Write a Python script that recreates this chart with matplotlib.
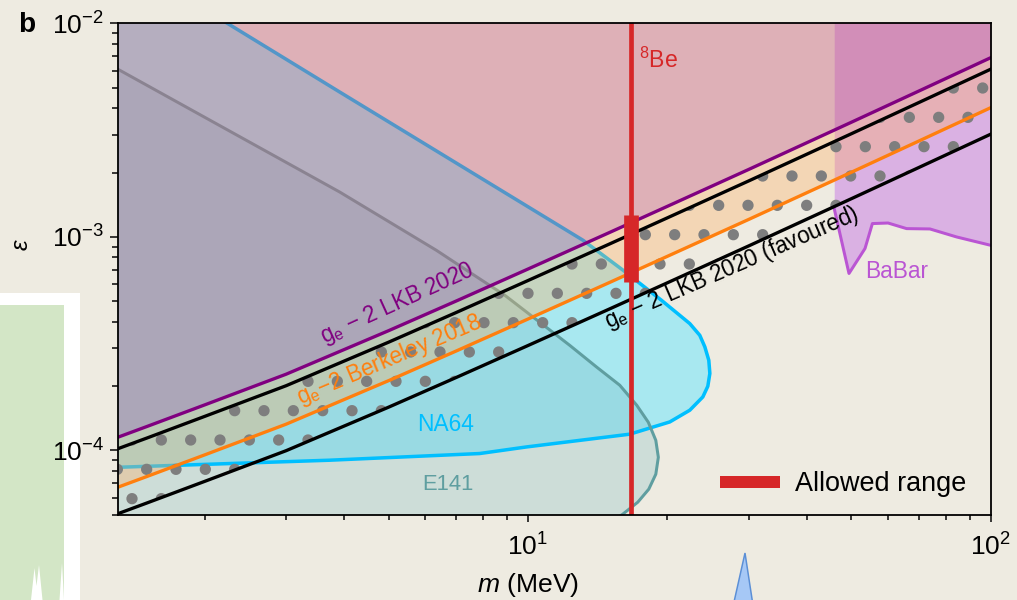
import matplotlib
matplotlib.use("Agg")
import matplotlib.pyplot as plt
from matplotlib.lines import Line2D
from matplotlib.patches import Rectangle, Polygon
from matplotlib.ticker import NullFormatter

# ---------------------------------------------------------------------------
# Output geometry (pixels) – the hatch cell of Agg equals one inch, so the dpi
# sets the spacing of the dotted "favoured" band.
W, H, DPI = 1017, 600, 176
PT = 72.0 / DPI  # points per output pixel

# ---------------------------------------------------------------------------
# Data: dark-photon mass m (MeV) and kinetic mixing epsilon
mass = [1.3, 1.5, 2, 3, 5, 7, 10, 15, 20, 30, 50, 70, 100]
lkb2020 = [1.151e-4, 1.291e-4, 1.630e-4, 2.270e-4, 3.633e-4, 5.003e-4, 7.06e-4,
           1.047e-3, 1.388e-3, 2.068e-3, 3.440e-3, 4.820e-3, 6.900e-3]
fav_upper = [1.017e-4, 1.140e-4, 1.440e-4, 2.005e-4, 3.209e-4, 4.420e-4, 6.237e-4,
             9.249e-4, 1.226e-3, 1.827e-3, 3.039e-3, 4.258e-3, 6.095e-3]
berkeley2018 = [6.713e-5, 7.529e-5, 9.506e-5, 1.324e-4, 2.119e-4, 2.918e-4, 4.117e-4,
                6.106e-4, 8.095e-4, 1.206e-3, 2.006e-3, 2.811e-3, 4.024e-3]
fav_lower = [5.045e-5, 5.658e-5, 7.144e-5, 9.949e-5, 1.592e-4, 2.193e-4, 3.094e-4,
             4.589e-4, 6.084e-4, 9.064e-4, 1.508e-3, 2.113e-3, 3.024e-3]

# NA64 excluded contour
na64_mass = [1.3, 2.245, 3.915, 13.15, 16.05, 19.43, 22.37, 23.51, 24.11, 24.59,
             24.72, 24.47, 23.87, 22.37, 20.25, 16.59, 9.92, 7.86, 3.725, 1.3]
na64_eps = [2.06e-2, 9.97e-3, 4.77e-3, 9.63e-4, 6.97e-4, 5.04e-4, 3.92e-4, 3.456e-4,
            3.05e-4, 2.64e-4, 2.29e-4, 1.994e-4, 1.777e-4, 1.540e-4, 1.357e-4,
            1.189e-4, 1.036e-4, 9.65e-5, 8.98e-5, 8.32e-5]

# E141 excluded contour
e141_mass = [1.3, 3.915, 6.34, 7.48, 8.91, 10.60, 12.31, 14.06, 15.79, 17.18, 18.20,
             18.89, 19.13, 18.89, 18.24, 17.27, 16.03, 14.29]
e141_eps = [6.09e-3, 1.622e-3, 8.64e-4, 6.82e-4, 5.32e-4, 3.98e-4, 3.10e-4, 2.456e-4,
            2.016e-4, 1.625e-4, 1.352e-4, 1.113e-4, 9.27e-5, 7.72e-5, 6.57e-5,
            5.71e-5, 5.02e-5, 4.22e-5]

# BaBar lower exclusion edge
babar_mass = [45.9, 49.4, 53.5, 55.5, 60.0, 65.8, 73.9, 84.4, 100]
babar_eps = [1.355e-3, 6.73e-4, 8.81e-4, 1.153e-3, 1.160e-3, 1.092e-3, 1.088e-3,
             9.98e-4, 9.12e-4]

# 8Be anomaly (X17) mass and allowed coupling range
be8_mass = 16.7
be8_range = [6.14e-4, 1.26e-3]

XLIM = (1.3, 100)
YLIM = (5e-5, 1e-2)
EPS_TOP = 2e-2

# ---------------------------------------------------------------------------
# Colours
BG = '#eeebe1'
PURPLE = '#800080'
ORANGE = '#ff7f0e'
BLACK = '#000000'
CYAN = '#00bfff'
TEAL = '#5f9ea0'
RED = '#d62728'
ORCHID = '#ba55d3'
DOT = '#7e7e7e'

plt.rcParams.update({
    'font.family': ['Liberation Sans', 'DejaVu Sans'],
    'mathtext.fontset': 'custom',
    'mathtext.rm': 'Liberation Sans',
    'mathtext.it': 'Liberation Sans:italic',
    'mathtext.bf': 'Liberation Sans:bold',
    'hatch.color': DOT,
    'hatch.linewidth': 2.2,
})

fig = plt.figure(figsize=(W / DPI, H / DPI), dpi=DPI, facecolor=BG)


def fx(px):
    return px / W


def fy(py):
    return 1 - py / H


# Edges of the neighbouring panels of the figure (behind everything else)
fig.patches.append(Rectangle((fx(-10), fy(620)), fx(90), fy(293) - fy(620),
                             transform=fig.transFigure, facecolor='white',
                             edgecolor='none', zorder=-2))
fig.patches.append(Rectangle((fx(-10), fy(620)), fx(74), fy(305) - fy(620),
                             transform=fig.transFigure, facecolor='#d3e6c6',
                             edgecolor='none', zorder=-2))
for peak in ([(31, 600), (34.5, 568), (36.5, 586), (39, 565), (42.5, 600)],
             [(59.5, 600), (62, 563), (64, 600)]):
    fig.patches.append(Polygon([(fx(a), fy(b)) for a, b in peak], closed=True,
                               transform=fig.transFigure, facecolor='white',
                               edgecolor='none', zorder=-1))
fig.patches.append(Polygon([(fx(734), fy(602)), (fx(745), fy(553)), (fx(752.5), fy(602))],
                           closed=True, transform=fig.transFigure,
                           facecolor='#a6c8f6', edgecolor='#5b8fd6',
                           linewidth=1.5 * PT, zorder=-1))

ax = fig.add_axes([fx(118), fy(514.5), fx(872.7), (491.2) / H])
ax.set_facecolor(BG)
ax.set_xscale('log')
ax.set_yscale('log')
ax.set_xlim(*XLIM)
ax.set_ylim(*YLIM)

# Excluded regions
ax.fill(na64_mass, na64_eps, color=(100 / 255, 230 / 255, 1.0), alpha=0.5,
        lw=0, zorder=1)
ax.fill(e141_mass + [XLIM[0]], e141_eps + [e141_eps[-1]],
        color=(110 / 255, 180 / 255, 190 / 255), alpha=0.25, lw=0, zorder=1.5)
ax.fill_between(babar_mass, babar_eps, EPS_TOP, color=(200 / 255, 120 / 255, 230 / 255),
                alpha=0.5, lw=0, zorder=2)
ax.plot(na64_mass, na64_eps, color=CYAN, lw=3.5 * PT, zorder=3)
ax.plot(e141_mass, e141_eps, color=TEAL, lw=3.0 * PT, zorder=3)
ax.plot(babar_mass, babar_eps, color=ORCHID, lw=3.0 * PT, zorder=3)

# g-2 bands
ax.fill_between(mass, berkeley2018, lkb2020, color=(1.0, 175 / 255, 100 / 255),
                alpha=0.35, lw=0, zorder=4)
ax.fill_between(mass, lkb2020, EPS_TOP, color=(200 / 255, 95 / 255, 125 / 255),
                alpha=0.42, lw=0, zorder=4)
ax.fill_between(mass, fav_lower, fav_upper, facecolor='none', edgecolor=DOT,
                lw=0, hatch='.', zorder=5)

ax.plot(mass, fav_lower, color=BLACK, lw=3.3 * PT, zorder=6)
ax.plot(mass, fav_upper, color=BLACK, lw=3.3 * PT, zorder=6)
ax.plot(mass, berkeley2018, color=ORANGE, lw=3.3 * PT, zorder=6)
ax.plot(mass, lkb2020, color=PURPLE, lw=3.3 * PT, zorder=6)

# 8Be line and allowed range
ax.axvline(be8_mass, color=RED, lw=4.7 * PT, zorder=7)
ax.plot([be8_mass, be8_mass], be8_range, color=RED, lw=14.7 * PT,
        solid_capstyle='butt', zorder=7)

# Labels on the plot
lab = 22.5 * PT
ax.text(5.23, 4.88e-4, 'g$_\\mathrm{e}$ − 2 LKB 2020', color=PURPLE, fontsize=lab,
        rotation=24.5, rotation_mode='anchor', ha='center', va='center', zorder=8)
ax.text(5.02, 2.65e-4, 'g$_\\mathrm{e}$−2 Berkeley 2018', color=ORANGE, fontsize=lab,
        rotation=23, rotation_mode='anchor', ha='center', va='center', zorder=8)
ax.text(27.57, 7.12e-4, 'g$_\\mathrm{e}$ − 2 LKB 2020 (favoured)', color=BLACK,
        fontsize=lab, rotation=23.5, rotation_mode='anchor', ha='center',
        va='center', zorder=8)
ax.text(6.64, 1.323e-4, 'NA64', color=CYAN, fontsize=22.8 * PT, ha='center',
        va='center', zorder=8)
ax.text(6.70, 6.93e-5, 'E141', color=TEAL, fontsize=22 * PT, ha='center',
        va='center', zorder=8)
ax.text(53.5, 6.89e-4, 'BaBar', color=ORCHID, fontsize=22.7 * PT, ha='left',
        va='center', zorder=8)
ax.text(17.35, 6.71e-3, '$^{8}$Be', color=RED, fontsize=23 * PT, ha='left',
        va='center', zorder=8)

# Legend
leg = ax.legend(handles=[Line2D([0], [0], color=RED, lw=12 * PT, solid_capstyle='butt')],
                labels=['Allowed range'], loc='center left',
                bbox_to_anchor=((720 - 118) / 872.7, (514.5 - 484) / 491.2),
                frameon=False, borderpad=0, borderaxespad=0,
                handlelength=60 / 27, handletextpad=15 / 27, fontsize=27 * PT)
leg.set_zorder(9)

# Axes styling
for side in ('top', 'right', 'bottom', 'left'):
    ax.spines[side].set_linewidth(1.8 * PT)
    ax.spines[side].set_zorder(10)
ax.tick_params(which='major', direction='out', length=8 * PT, width=1.5 * PT,
               labelsize=26.5 * PT, color=BLACK, top=False, right=False)
ax.tick_params(which='minor', direction='out', length=6 * PT, width=1.5 * PT,
               top=False, right=False)
ax.tick_params(axis='y', which='both', pad=6 * PT)
ax.tick_params(axis='x', which='major', pad=12 * PT, length=7 * PT)
ax.tick_params(axis='x', which='minor', length=5 * PT)
ax.xaxis.set_minor_formatter(NullFormatter())
ax.yaxis.set_minor_formatter(NullFormatter())

ax.set_xlabel('$m$ (MeV)', fontsize=26.5 * PT)
ax.xaxis.set_label_coords((528 - 118) / 872.7, (514.5 - 571) / 491.2)
ax.set_ylabel('ε', fontsize=24 * PT, fontstyle='italic')
ax.yaxis.set_label_coords((33 - 118) / 872.7, (514.5 - 245) / 491.2)

fig.text(fx(18), fy(31.5), 'b', fontsize=28 * PT, fontweight='bold', ha='left',
         va='baseline')

fig.savefig('out.png', dpi=DPI, facecolor=BG)
